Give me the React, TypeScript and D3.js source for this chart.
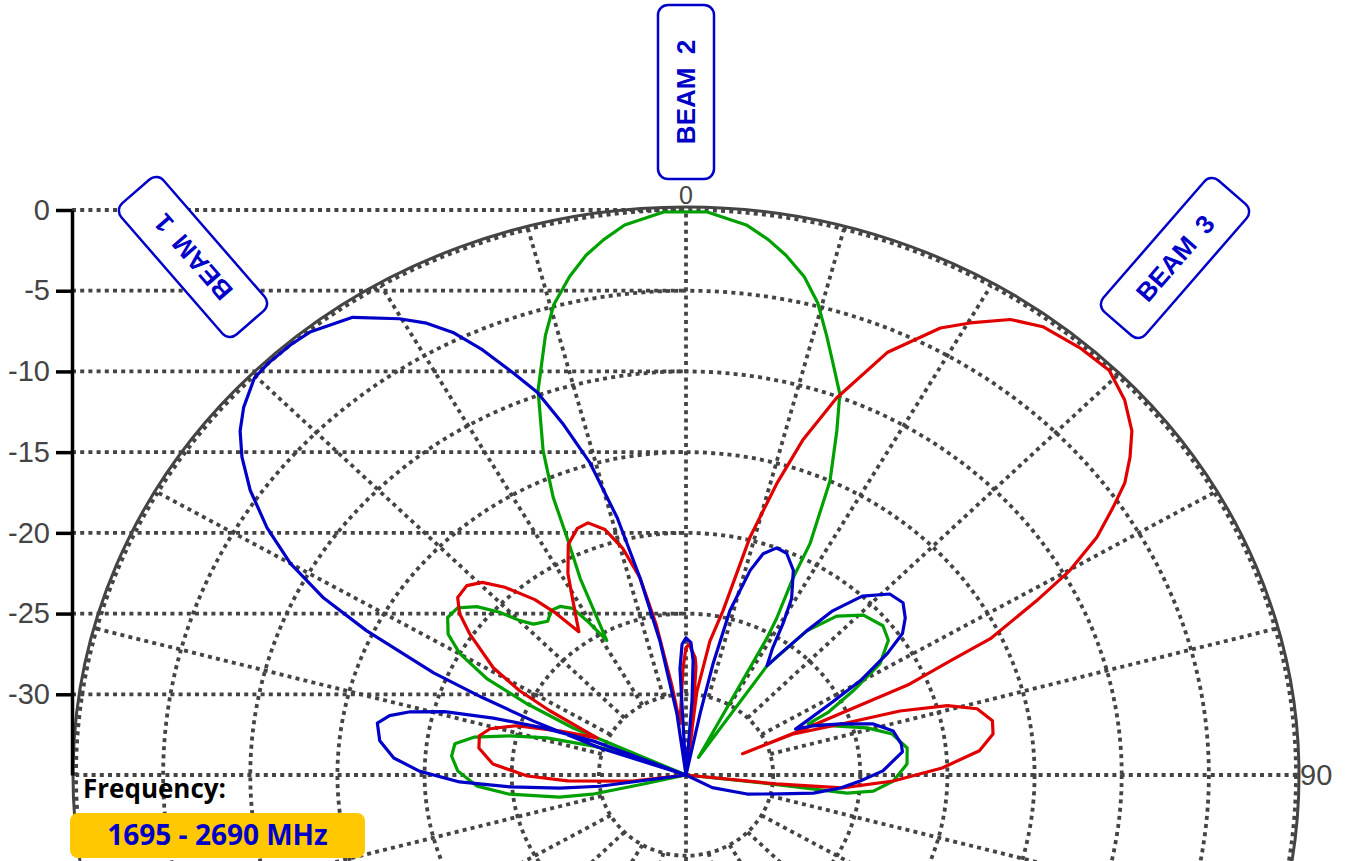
import { useEffect, useRef } from "react";
import * as d3 from "d3";

const W = 1353;
const H = 861;
const CX = 686;
const CY = 775;
const RX = 610;
const RY = 565;

const dbTicks = [0, -5, -10, -15, -20, -25, -30];
const ringLevels = [-30, -25, -20, -15, -10, -5, 0];
const spokeAngles = d3.range(0, 360, 15);

// [angle in degrees, gain in dB]
const beam2: [number, number][] = [
  [-112, -35], [-102.8, -32.5], [-102.5, -29.5], [-100.7, -27.6], [-96.7, -24.8],
  [-93.3, -23.0], [-88.9, -21.9], [-85.0, -21.5], [-81.7, -21.6], [-79.1, -22.6],
  [-76.5, -24.6], [-73.9, -26.7], [-71.4, -29.4], [-68.9, -31.4], [-67, -35],
  [-65.8, -27.9], [-64.2, -24.9], [-62.4, -22.1], [-59.9, -20.0], [-57.4, -18.8],
  [-54.5, -18.2], [-51.7, -18.3], [-49.0, -19.1], [-46.7, -20.3], [-44.9, -21.5],
  [-43.1, -22.2], [-39.8, -22.6], [-37.1, -22.2], [-34.7, -22.3], [-32.2, -22.8],
  [-30.7, -23.9], [-28.6, -25.5], [-26.5, -21.4], [-24.9, -18.8], [-23.9, -16.2],
  [-22.2, -13.3], [-19.6, -9.7], [-16.5, -6.6], [-14.6, -4.9], [-12.2, -3.4],
  [-10.1, -2.3], [-8.1, -1.5], [-5.9, -0.75], [-2.1, -0.1], [2.0, -0.1],
  [5.8, -0.75], [8.1, -1.5], [10.1, -2.3], [12.4, -3.4], [14.5, -4.8],
  [16.5, -6.6], [18.5, -8.3], [20.5, -9.8], [22.1, -12.0], [24.4, -15.0],
  [26.4, -19.0], [26.7, -21.3], [28.2, -24.0], [28.7, -25.3], [33.2, -33.7],
  [34.5, -26.8], [37.8, -23.7], [41.3, -21.9], [45.8, -20.8], [50.7, -20.4],
  [54.3, -20.7], [58.2, -21.9], [61.5, -24.1], [64.6, -26.0], [65.7, -27.3],
  [70.2, -26.0], [74.3, -24.2], [77.9, -22.9], [82.5, -22.2], [86.9, -22.3],
  [91.8, -23.1], [95.3, -24.2], [96.9, -25.7], [96.8, -27.7], [96.4, -30.6],
  [100, -35],
];

const beam1: [number, number][] = [
  [-105, -35], [-98, -30.0], [-96.4, -27.7], [-94.2, -24.9], [-91.9, -22.0],
  [-89.1, -19.7], [-86.4, -18.2], [-83.1, -17.3], [-79.7, -17.0], [-77.8, -17.6],
  [-76.1, -18.7], [-74.2, -20.6], [-72.3, -23.4], [-70.4, -26.3], [-68.4, -29.3],
  [-70, -35], [-71.2, -29.8], [-69.1, -25.6], [-67.7, -22.4], [-66.4, -19.2],
  [-64.0, -14.6], [-62.2, -11.5], [-60.0, -8.8], [-57.5, -6.5], [-54.8, -4.4],
  [-52.3, -2.8], [-50.2, -1.7], [-48.1, -0.9], [-45.2, -0.1], [-43.2, 0],
  [-40.4, 0], [-38.1, -0.1], [-34.0, -0.8], [-30.2, -2.3], [-28.0, -3.3],
  [-26.0, -4.5], [-23.9, -6.2], [-21.7, -8.2], [-19.8, -9.8], [-18.0, -12.1],
  [-15.9, -14.9], [-13.9, -18.6], [-12.2, -22.5], [-10.2, -26.6], [-7.8, -31.2],
  [-6, -35], [-3.0, -28.4], [-1.6, -26.9], [0, -26.5], [2.0, -26.8],
  [3.3, -27.9], [4.3, -30.4], [6, -35], [12.0, -31.1], [12.7, -27.9],
  [13.9, -24.5], [16.2, -21.8], [17.9, -20.6], [20.3, -20.0], [22.8, -20.1],
  [25.9, -20.9], [29.0, -22.5], [30.7, -24.1], [32.3, -25.7], [34.5, -26.8],
  [35.7, -25.8], [37.8, -23.7], [39.6, -21.8], [42.4, -20.0], [46.2, -18.8],
  [49.4, -18.6], [52.3, -19.1], [54.8, -19.8], [56.9, -21.2], [59.7, -23.4],
  [61.9, -25.6], [65.7, -28.1], [67.3, -27.1], [70.3, -25.6], [73.6, -23.8],
  [77.1, -22.8], [81.2, -22.5], [83.4, -22.5], [88.7, -23.7], [92.1, -25.0],
  [95.2, -26.1], [98.7, -27.6], [102.3, -29.5], [108.6, -31.3], [117.4, -33.3],
  [125, -35],
];

const beam3: [number, number][] = [
  [-110, -35], [-97.0, -31.9], [-93.1, -28.2], [-90.4, -25.9], [-86.5, -23.9],
  [-82.0, -23.0], [-78.4, -22.9], [-75.7, -23.4], [-72.6, -24.8], [-69.3, -27.3],
  [-65.8, -29.4], [-63.0, -26.2], [-61.3, -24.1], [-59.0, -22.1], [-54.8, -19.8],
  [-52.4, -18.6], [-50.0, -17.9], [-47.0, -17.8], [-44.4, -18.3], [-41.8, -19.4],
  [-38.6, -21.1], [-36.7, -22.5], [-34.7, -24.2], [-31.0, -22.4], [-28.5, -20.8],
  [-25.3, -19.2], [-22.2, -18.5], [-19.8, -18.4], [-17.0, -19.1], [-14.5, -20.5],
  [-12.2, -22.5], [-10.4, -25.5], [-8.3, -29.4], [-6.2, -31.8], [-1.5, -28.4],
  [0, -27.1], [1.2, -26.9], [4.1, -27.7], [4.9, -28.3], [7.2, -32.3],
  [8, -35], [6.9, -29.8], [9.4, -26.6], [11.8, -24.6], [14.0, -19.8],
  [16.1, -16.2], [17.9, -13.2], [20.3, -10.1], [23.8, -6.4], [27.8, -3.7],
  [30.2, -2.6], [33.4, -1.2], [36.4, -0.5], [40.5, -0.2], [44.1, -0.1],
  [47.3, -0.75], [50.2, -1.7], [52.3, -2.8], [54.3, -4.0], [55.9, -5.4],
  [58.0, -7.2], [60.1, -9.6], [61.8, -12.2], [64.2, -15.6], [65.0, -18.3],
  [66.3, -21.0], [66.7, -24.9], [67.2, -27.5], [67.9, -31.5], [67.5, -28.4],
  [70.7, -25.2], [72.1, -22.1], [74.0, -19.4], [76.2, -17.8], [79.2, -17.1],
  [81.8, -17.2], [84.9, -18.1], [88.3, -20.3], [91.8, -23.1], [95.1, -26.0],
  [96.1, -29.8], [102, -35],
];

const BLUE = "#0000c8";
const GRID = "#444444";

const series = [
  { data: beam2, color: "#00a000" },
  { data: beam3, color: "#e00000" },
  { data: beam1, color: BLUE },
];

const beamLabels = [
  { text: "BEAM 1", x: 193, y: 257, angle: -131 },
  { text: "BEAM 2", x: 686, y: 92, angle: -90 },
  { text: "BEAM 3", x: 1175, y: 258, angle: -49 },
];

export default function App() {
  const ref = useRef<SVGSVGElement>(null);

  useEffect(() => {
    if (!ref.current) return;
    const svg = d3.select(ref.current);
    svg.selectAll("*").remove();

    const r = d3.scaleLinear().domain([-35, 0]).range([0, 1]).clamp(true);
    const y = d3.scaleLinear().domain([-35, 0]).range([CY, CY - RY]);
    const rad = (a: number) => (a * Math.PI) / 180;
    const px = (a: number, db: number) => CX + RX * r(db) * Math.sin(rad(a));
    const py = (a: number, db: number) => CY - RY * r(db) * Math.cos(rad(a));

    const grid = svg
      .append("g")
      .attr("fill", "none")
      .attr("stroke", GRID)
      .attr("stroke-width", 3.8)
      .attr("stroke-dasharray", "4 4.2");

    // horizontal lines from the axis to the centre line
    grid
      .selectAll("line.h")
      .data(dbTicks)
      .enter()
      .append("line")
      .attr("x1", 72)
      .attr("x2", CX)
      .attr("y1", (d) => y(d))
      .attr("y2", (d) => y(d));

    grid
      .selectAll("ellipse")
      .data(ringLevels)
      .enter()
      .append("ellipse")
      .attr("cx", CX)
      .attr("cy", CY)
      .attr("rx", (d) => RX * r(d))
      .attr("ry", (d) => RY * r(d));

    // spokes: the four main ones reach the centre, the rest start at the first ring
    grid
      .selectAll("line.s")
      .data(spokeAngles)
      .enter()
      .append("line")
      .attr("x1", (d) => (d % 90 === 0 ? CX : px(d, -30)))
      .attr("y1", (d) => (d % 90 === 0 ? CY : py(d, -30)))
      .attr("x2", (d) => px(d, 0))
      .attr("y2", (d) => py(d, 0));

    svg
      .append("ellipse")
      .attr("cx", CX)
      .attr("cy", CY)
      .attr("rx", RX + 3)
      .attr("ry", RY + 3)
      .attr("fill", "none")
      .attr("stroke", GRID)
      .attr("stroke-width", 3);

    const axis = svg
      .append("g")
      .attr("transform", "translate(72,0)")
      .call(
        d3
          .axisLeft(y)
          .tickValues(dbTicks)
          .tickFormat((d) => String(d))
          .tickSize(16)
          .tickSizeOuter(0)
          .tickPadding(6)
      );
    axis.select(".domain").attr("stroke", "#000").attr("stroke-width", 3.5);
    axis.selectAll(".tick line").attr("stroke", "#000").attr("stroke-width", 3.5);
    axis
      .selectAll(".tick text")
      .attr("fill", GRID)
      .attr("font-family", "'Liberation Sans', Arial, sans-serif")
      .attr("font-size", 29);

    svg
      .append("text")
      .attr("x", CX)
      .attr("y", 204)
      .attr("text-anchor", "middle")
      .attr("fill", GRID)
      .attr("font-family", "'Liberation Sans', Arial, sans-serif")
      .attr("font-size", 25)
      .text("0");

    svg
      .append("text")
      .attr("x", 1300)
      .attr("y", 785)
      .attr("fill", GRID)
      .attr("font-family", "'Liberation Sans', Arial, sans-serif")
      .attr("font-size", 29)
      .text("90");

    const line = d3
      .line<[number, number]>()
      .x((d) => px(d[0], d[1]))
      .y((d) => py(d[0], d[1]))
      .curve(d3.curveLinear);

    svg
      .selectAll("path.beam")
      .data(series)
      .enter()
      .append("path")
      .attr("class", "beam")
      .attr("d", (d) => line(d.data))
      .attr("fill", "none")
      .attr("stroke", (d) => d.color)
      .attr("stroke-width", 3.2)
      .attr("stroke-linejoin", "round");

    const lab = svg
      .selectAll("g.beamlabel")
      .data(beamLabels)
      .enter()
      .append("g")
      .attr("transform", (d) => `translate(${d.x},${d.y}) rotate(${d.angle})`);
    lab
      .append("rect")
      .attr("x", -87)
      .attr("y", -28)
      .attr("width", 174)
      .attr("height", 56)
      .attr("rx", 10)
      .attr("fill", "#fff")
      .attr("stroke", BLUE)
      .attr("stroke-width", 2.5);
    lab
      .append("text")
      .attr("text-anchor", "middle")
      .attr("dy", "0.36em")
      .attr("fill", BLUE)
      .attr("font-family", "'Liberation Sans', Arial, sans-serif")
      .attr("font-weight", "bold")
      .attr("font-size", 26)
      .attr("word-spacing", 6)
      .text((d) => d.text);

    svg
      .append("text")
      .attr("x", 83)
      .attr("y", 798)
      .attr("fill", "#000")
      .attr("font-family", "'Open Sans', sans-serif")
      .attr("font-weight", "bold")
      .attr("font-size", 26)
      .text("Frequency:");

    svg
      .append("rect")
      .attr("x", 70)
      .attr("y", 813)
      .attr("width", 295)
      .attr("height", 45)
      .attr("rx", 8)
      .attr("fill", "#ffc800");

    svg
      .append("text")
      .attr("x", 217.5)
      .attr("y", 845)
      .attr("text-anchor", "middle")
      .attr("fill", BLUE)
      .attr("font-family", "'Open Sans', sans-serif")
      .attr("font-weight", "bold")
      .attr("font-size", 28)
      .text("1695 - 2690 MHz");
  }, []);

  return (
    <svg
      ref={ref}
      width={W}
      height={H}
      style={{ position: "absolute", left: 0, top: 0, background: "#fff" }}
    />
  );
}
